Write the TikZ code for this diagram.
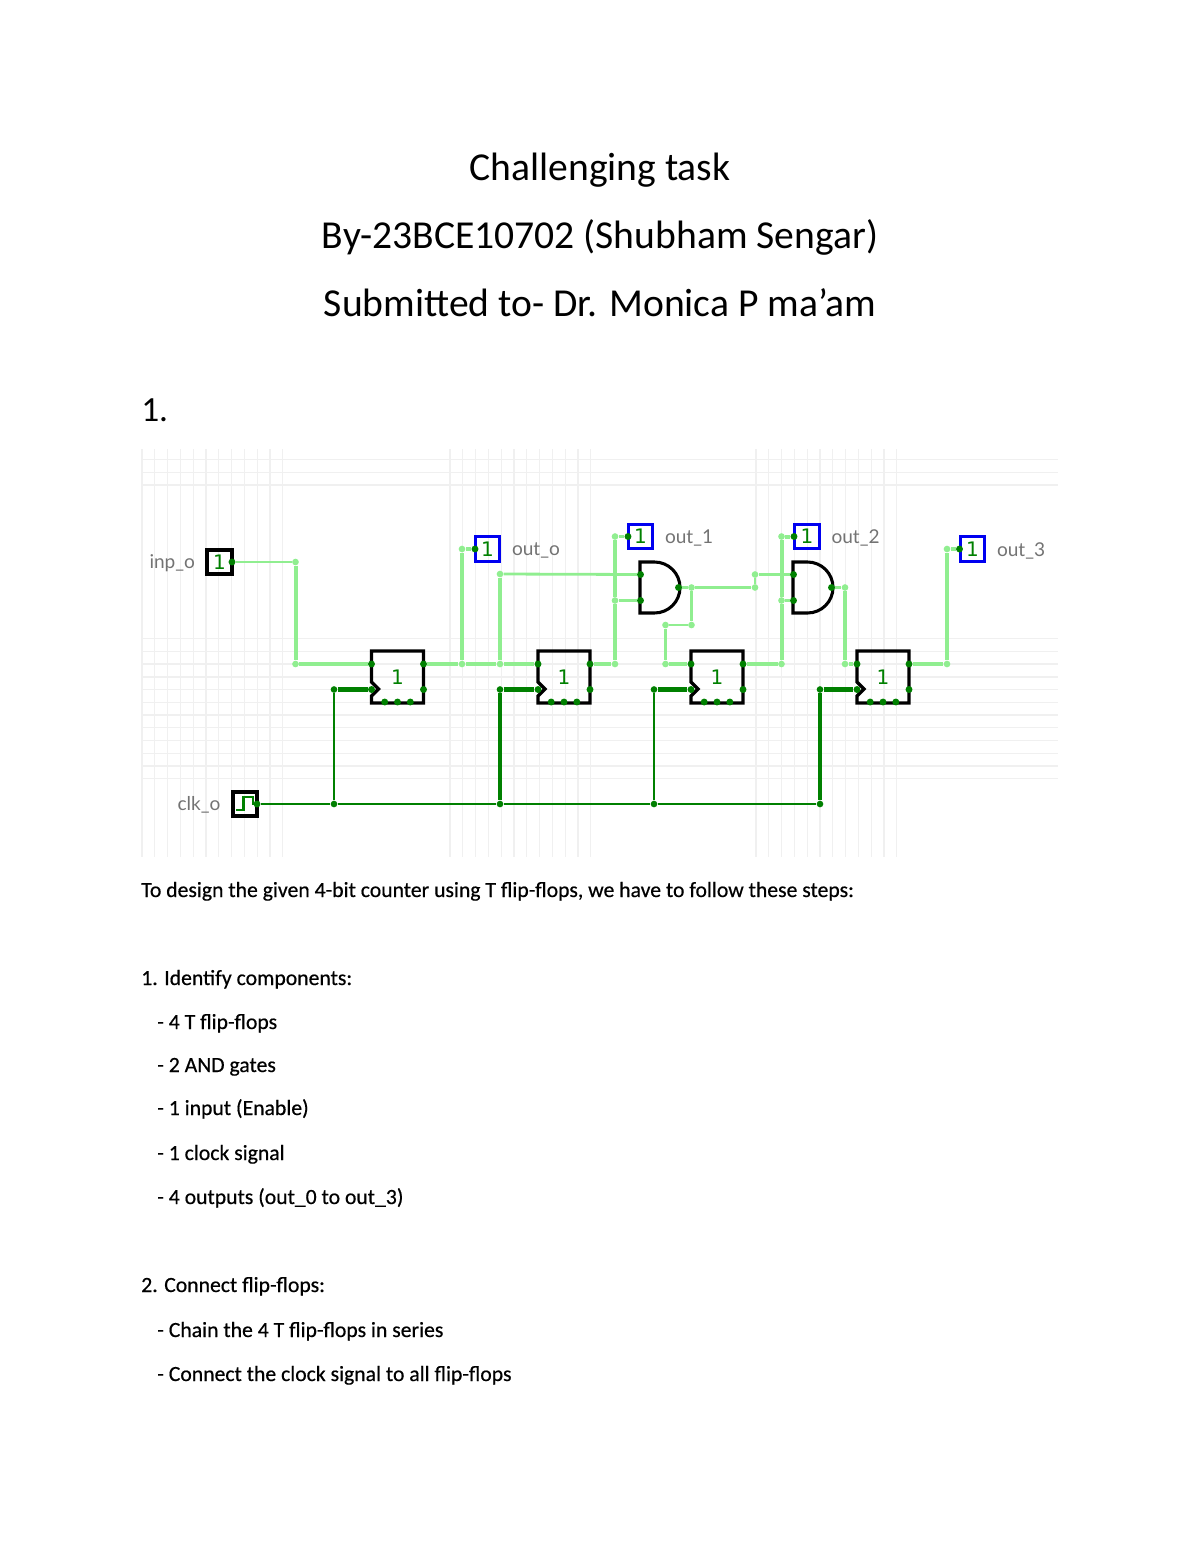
\documentclass[tikz,border=0pt]{standalone}
\usepackage{fontspec}
\setmainfont{Carlito}
\newfontfamily\bodyfont[FakeBold=0.5]{Carlito}
\newfontfamily\labelfont{Lato}
\newfontfamily\digitfont{DejaVu Sans}
\usepackage{tikz}
\usetikzlibrary{positioning}
\definecolor{wirelight}{HTML}{90EE90}
\definecolor{wiredark}{HTML}{008000}
\definecolor{gridgray}{HTML}{F0F0F0}
\definecolor{outblue}{HTML}{0000F0}
\tikzset{
    gridline/.style={gridgray, line width=1pt},
    lightthin/.style={wirelight, line width=2.1pt},
    lightwire/.style={wirelight, line width=2.3pt},
    lightbus/.style={wirelight, line width=3pt},
    darkwire/.style={wiredark, line width=2.2pt},
    darkbus/.style={wiredark, line width=3.1pt},
    jct/.style={circle, fill=wirelight, inner sep=0pt, minimum size=5pt},
    djct/.style={circle, fill=wiredark, inner sep=0pt, minimum size=5pt},
    pindot/.style={circle, fill=wiredark, inner sep=0pt, minimum size=5.2pt},
    srcbox/.style={draw=black, line width=2.8pt, inner sep=0pt, outer sep=0pt, minimum size=18.4pt},
    outbox/.style={draw=outblue, line width=2.5pt, inner sep=0pt, outer sep=0pt, minimum size=18.4pt},
    bit/.style={text=wiredark, font=\digitfont\fontsize{15}{15}\selectfont},
    pinname/.style={black!55, inner sep=0pt, font=\labelfont\fontsize{14.3}{16}\selectfont},
    titleline/.style={inner sep=0pt, anchor=base, font=\fontsize{29.7}{34}\selectfont},
    bodyline/.style={inner sep=0pt, anchor=base west, font=\bodyfont\fontsize{16.27}{20}\selectfont},
}
% flip-flop: name, x, y
\newcommand{\flipflop}[3]{
    \node[inner sep=0pt, outer sep=0pt, minimum size=39pt, bit] (#1) at (#2,#3) {1};
    \draw[black, line width=2.6pt] (#1.north west) -- (#1.north east) -- (#1.south east) -- (#1.south west)
        -- ++(0,-7) -- ++(7,-7) -- ++(-7,-7) -- cycle;
    \path (#1.center) ++(-26,-13) node[pindot] (#1d) {};
    \path (#1.center) ++(-26,12.5) node[pindot] (#1c) {};
    \path (#1.center) ++(26,-13) node[pindot] (#1q) {};
    \path (#1.center) ++(26,12.5) node[pindot] (#1n) {};
    \path (#1.center) ++(-12.8,25) node[pindot] (#1r) {};
    \path (#1.center) ++(0,25) node[pindot] (#1t) {};
    \path (#1.center) ++(12.8,25) node[pindot] (#1s) {};
}
% and gate: name, x, y
\newcommand{\andgate}[3]{
    \node[inner sep=0pt, outer sep=0pt, minimum width=30pt, minimum height=38.25pt] (#1) at (#2,#3) {};
    \draw[black, line width=2.3pt] (#1.north west) -- ++(14.5,0)
        arc[start angle=90, end angle=-90, radius=19.125pt] -- (#1.south west) -- cycle;
    \path (#1.west) ++(0.5,-13) node[pindot] (#1a) {};
    \path (#1.west) ++(0.5,13) node[pindot] (#1b) {};
    \path (#1.east) ++(-1.5,0) node[pindot] (#1y) {};
}

\begin{document}
\begin{tikzpicture}[x=0.75pt, y=-0.75pt]
\useasboundingbox (0,0) rectangle (1200,1553);

\node[titleline] (title) at (600,180) {Challenging task};
\node[titleline] (byline) at (600,248) {By-23BCE10702 (Shubham Sengar)};
\node[titleline] (submitted) at (600,316) {Submitted to- Dr. Monica P ma’am};
\node[inner sep=0pt, anchor=base west, font=\fontsize{26.5}{32}\selectfont] (partone) at (141,421.5) {1.};

    % -------

\foreach \ox in {142,450,756}
    \foreach \i in {0,...,11}
        \draw[gridline] ({\ox+\i*12.8},449) -- ({\ox+\i*12.8},857);
\foreach \yy in {459.5,472.3,485}
    \draw[gridline] (142,\yy) -- (1058,\yy);
\foreach \i in {0,...,11}
    \draw[gridline] (142,{638.7+\i*12.72}) -- (1058,{638.7+\i*12.72});

    % -------

\node[srcbox, bit] (inp) at (219.5,562) {1};
\node[pindot] (inpp) at (232,562) {};
\node[pinname, left=9pt of inp, yshift=-0.7pt] (inpL) {inp\_o};

\node[srcbox] (clk) at (245,804) {};
\draw[wiredark, line width=2pt] (236,810) -- (243.3,810) -- (243.3,797) -- (253,797) -- (253,804) -- (257,804);
\node[pindot] (clkp) at (257,804) {};
\node[pinname, left=9pt of clk, yshift=-0.7pt] (clkL) {clk\_o};

\node[outbox, bit] (out0) at (487.5,549) {1};
\node[pindot] (out0p) at (475,549) {};
\node[pinname, right=9pt of out0, yshift=-1.2pt] (out0L) {out\_o};
\node[outbox, bit] (out1) at (640.5,536.5) {1};
\node[pindot] (out1p) at (628,536.5) {};
\node[pinname, right=9pt of out1, yshift=-1.2pt] (out1L) {out\_1};
\node[outbox, bit] (out2) at (807,536.5) {1};
\node[pindot] (out2p) at (794,536.5) {};
\node[pinname, right=9pt of out2, yshift=-1.2pt] (out2L) {out\_2};
\node[outbox, bit] (out3) at (972.5,549) {1};
\node[pindot] (out3p) at (959.5,549) {};
\node[pinname, right=9pt of out3, yshift=-1.2pt] (out3L) {out\_3};

\flipflop{ffa}{397.5}{677}
\flipflop{ffb}{564}{677}
\flipflop{ffc}{717}{677}
\flipflop{ffd}{883}{677}
\andgate{anda}{660}{587.5}
\andgate{andb}{813}{587.5}

    % -------

\foreach \name/\xx/\yy in {inpa/295.5/562, inpb/295.5/664,
    qaa/462/664, qab/462/549, qac/500/664, qad/500/574,
    qba/615/664, qbb/615/600.5, qbc/615/536.5,
    anda1/691.5/587.5, anda2/691.5/625, anda3/665.5/625, anda4/665.5/664,
    anda5/755/587.5, anda6/755/574.5,
    qca/781.5/664, qcb/781.5/600.5, qcc/781.5/536.5,
    andb1/845/587.5, andb2/845/664,
    qda/947/664, qdb/947/549}
    \node[jct] (\name) at (\xx,\yy) {};
\foreach \name/\xx/\yy in {clka/334/804, clkb/500/804, clkc/654/804, clkd/820/804,
    clke/334/689.5, clkf/500/689.5, clkg/654/689.5, clkh/820/689.5}
    \node[djct] (\name) at (\xx,\yy) {};

\draw[lightthin] (inpp) -- (inpa);
\draw[lightbus] (inpa) -- (inpb) -- (ffad);
\draw[lightbus] (ffaq) -- (qaa) -- (qac) -- (ffbd);
\draw[lightwire] (qaa) -- (qab) -- (out0p);
\draw[lightwire] (qac) -- (qad);
\draw[lightthin] (qad) -- (andaa);
\draw[lightwire] (ffbq) -- (qba) -- (qbb) -- (qbc) -- (out1p);
\draw[lightthin] (qbb) -- (andab);
\draw[lightthin] (anday) -- (anda1) -- (anda5) -- (anda6) -- (andba);
\draw[lightwire] (anda1) -- (anda2);
\draw[lightthin] (anda2) -- (anda3);
\draw[lightwire] (anda3) -- (anda4);
\draw[lightbus] (anda4) -- (ffcd);
\draw[lightbus] (ffcq) -- (qca);
\draw[lightbus] (qca) -- (qcb) -- (qcc) -- (out2p);
\draw[lightthin] (qcb) -- (andbb);
\draw[lightthin] (andby) -- (andb1);
\draw[lightbus] (andb1) -- (andb2) -- (ffdd);
\draw[lightbus] (ffdq) -- (qda);
\draw[lightwire] (qda) -- (qdb) -- (out3p);

\draw[darkwire] (clkp) -- (clka) -- (clkb) -- (clkc) -- (clkd);
\draw[darkwire] (clka) -- (clke);
\draw[darkbus] (clkb) -- (clkf);
\draw[darkwire] (clkc) -- (clkg);
\draw[darkbus] (clkd) -- (clkh);
\draw[darkbus] (clke) -- (ffac);
\draw[darkbus] (clkf) -- (ffbc);
\draw[darkbus] (clkg) -- (ffcc);
\draw[darkbus] (clkh) -- (ffdc);

    % -------

\node[bodyline] (steps) at (141,897) {To design the given 4-bit counter using T flip-flops, we have to follow these steps:};
\node[bodyline] (ident) at (141,985) {1. Identify components:};
\node[bodyline] (identa) at (157,1029) {- 4 T flip-flops};
\node[bodyline] (identb) at (157,1072) {- 2 AND gates};
\node[bodyline] (identc) at (157,1115) {- 1 input (Enable)};
\node[bodyline] (identd) at (157,1160) {- 1 clock signal};
\node[bodyline] (idente) at (157,1204) {- 4 outputs (out\_0 to out\_3)};
\node[bodyline] (conn) at (141,1292) {2. Connect flip-flops:};
\node[bodyline] (conna) at (157,1337) {- Chain the 4 T flip-flops in series};
\node[bodyline] (connb) at (157,1381) {- Connect the clock signal to all flip-flops};

\end{tikzpicture}
\end{document}
